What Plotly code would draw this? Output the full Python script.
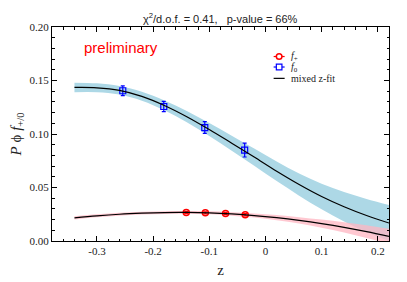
import plotly.graph_objects as go

# ---- data ----
z_curve = [-0.34, -0.30, -0.26, -0.22, -0.18, -0.14, -0.10, -0.06, -0.02,
           0.02, 0.06, 0.10, 0.14, 0.18, 0.22]
f0_fit = [0.1435, 0.1432, 0.1408, 0.1352, 0.1267, 0.1162, 0.1042, 0.0914,
          0.0784, 0.0652, 0.0528, 0.0416, 0.0320, 0.0238, 0.0168]
f0_err = [0.0045, 0.0042, 0.0040, 0.0042, 0.0046, 0.0052, 0.0060, 0.0070,
          0.0080, 0.0092, 0.0104, 0.0120, 0.0138, 0.0155, 0.0168]
fp_fit = [0.0216, 0.0235, 0.0250, 0.0260, 0.0266, 0.0267, 0.0263, 0.0253,
          0.0238, 0.0218, 0.0193, 0.0163, 0.0128, 0.0088, 0.0044]
fp_err = [0.0015, 0.0014, 0.0013, 0.0013, 0.0013, 0.0013, 0.0014, 0.0016,
          0.0019, 0.0024, 0.0030, 0.0038, 0.0048, 0.0060, 0.0070]

z_f0 = [-0.254, -0.181, -0.108, -0.037]
f0_pts = [0.1404, 0.1257, 0.1060, 0.0850]
f0_pts_err = [0.0045, 0.0048, 0.0055, 0.0065]

z_fp = [-0.141, -0.107, -0.071, -0.036]
fp_pts = [0.0266, 0.0263, 0.0257, 0.0245]
fp_pts_err = [0.0010, 0.0010, 0.0010, 0.0010]

x_ticks = [-0.3, -0.2, -0.1, 0.0, 0.1, 0.2]
x_ticklabels = ["-0.3", "-0.2", "-0.1", "0", "0.1", "0.2"]
y_ticks = [0.00, 0.05, 0.10, 0.15, 0.20]
y_ticklabels = ["0.00", "0.05", "0.10", "0.15", "0.20"]

legend_labels = ["<i>f</i><sub>+</sub>", "<i>f</i><sub>0</sub>", "mixed z-fit"]

f0_up = [a + b for a, b in zip(f0_fit, f0_err)]
f0_lo = [a - b for a, b in zip(f0_fit, f0_err)]
fp_up = [a + b for a, b in zip(fp_fit, fp_err)]
fp_lo = [a - b for a, b in zip(fp_fit, fp_err)]

serif = "Liberation Serif"
sans = "Liberation Sans"

fig = go.Figure()

line_shape = dict(shape="spline", smoothing=1.0)

# f0 band
fig.add_trace(go.Scatter(x=z_curve, y=f0_up, mode="lines", line=dict(width=0, **line_shape),
                         showlegend=False, hoverinfo="skip"))
fig.add_trace(go.Scatter(x=z_curve, y=f0_lo, mode="lines", line=dict(width=0, **line_shape),
                         fill="tonexty", fillcolor="#add8e6", showlegend=False, hoverinfo="skip"))
# f+ band
fig.add_trace(go.Scatter(x=z_curve, y=fp_up, mode="lines", line=dict(width=0, **line_shape),
                         showlegend=False, hoverinfo="skip"))
fig.add_trace(go.Scatter(x=z_curve, y=fp_lo, mode="lines", line=dict(width=0, **line_shape),
                         fill="tonexty", fillcolor="rgba(255,182,193,0.75)", showlegend=False,
                         hoverinfo="skip"))

# data points
fig.add_trace(go.Scatter(x=z_fp, y=fp_pts, mode="markers", name=legend_labels[0], showlegend=False,
                         marker=dict(symbol="circle-open", size=6, color="red", line=dict(width=1.5)),
                         error_y=dict(type="data", array=fp_pts_err, color="red", thickness=1.2, width=2)))
fig.add_trace(go.Scatter(x=z_f0, y=f0_pts, mode="markers", name=legend_labels[1], showlegend=False,
                         marker=dict(symbol="square-open", size=6, color="blue", line=dict(width=1.2)),
                         error_y=dict(type="data", array=f0_pts_err, color="blue", thickness=1.2, width=2)))

# fit lines
fig.add_trace(go.Scatter(x=z_curve, y=f0_fit, mode="lines", name=legend_labels[2], showlegend=False,
                         line=dict(color="black", width=1.2, **line_shape)))
fig.add_trace(go.Scatter(x=z_curve, y=fp_fit, mode="lines", showlegend=False,
                         line=dict(color="black", width=1.2, **line_shape)))

axis_common = dict(showline=True, linecolor="black", linewidth=1, mirror="ticks",
                   ticks="inside", ticklen=5, tickcolor="black", showgrid=False, zeroline=False,
                   automargin=False,
                   tickfont=dict(family=serif, size=11, color="#222"))

fig.update_xaxes(range=[-0.38, 0.22], tickvals=x_ticks, ticktext=x_ticklabels,
                 minor=dict(ticks="inside", ticklen=2.5, dtick=0.02, tick0=0, tickcolor="black"),
                 title=dict(text="z", font=dict(family=serif, size=15, color="#222"), standoff=8),
                 **axis_common)
fig.update_yaxes(range=[0, 0.2], tickvals=y_ticks, ticktext=y_ticklabels,
                 minor=dict(ticks="inside", ticklen=2.5, dtick=0.01, tick0=0, tickcolor="black"),
                 title=dict(text="<i>P</i> ϕ <i>f</i><sub>+/0</sub>",
                            font=dict(family=serif, size=15, color="#222"), standoff=4),
                 **axis_common)

# ---- hand-drawn legend (compact, like the reference) ----
PW, PH = 337.0, 214.0           # plot area size in px
lx, ltx = 0.674, 0.703          # key centre / text start (paper)
ly = [0.862, 0.813, 0.760]      # entry centres (paper)
rx, ry = 2.8 / PW, 2.8 / PH
hx = 5.5 / PW
shapes = []
# f+ key: circle with horizontal bar
shapes.append(dict(type="line", xref="paper", yref="paper", x0=lx - hx, x1=lx + hx, y0=ly[0], y1=ly[0],
                   line=dict(color="red", width=1.2)))
shapes.append(dict(type="circle", xref="paper", yref="paper", x0=lx - rx, x1=lx + rx,
                   y0=ly[0] - ry, y1=ly[0] + ry, line=dict(color="red", width=1.5), fillcolor="white"))
# f0 key: square with horizontal bar
shapes.append(dict(type="line", xref="paper", yref="paper", x0=lx - hx, x1=lx + hx, y0=ly[1], y1=ly[1],
                   line=dict(color="blue", width=1.2)))
shapes.append(dict(type="rect", xref="paper", yref="paper", x0=lx - rx, x1=lx + rx,
                   y0=ly[1] - ry, y1=ly[1] + ry, line=dict(color="blue", width=1.2), fillcolor="white"))
# fit key: black line
shapes.append(dict(type="line", xref="paper", yref="paper", x0=lx - hx, x1=lx + hx, y0=ly[2], y1=ly[2],
                   line=dict(color="black", width=1.2)))

annotations = [
    dict(text="χ<sup>2</sup>/d.o.f. = 0.41,   p-value = 66%", xref="paper", yref="paper",
         x=0.5, y=1.0, xanchor="center", yanchor="bottom", showarrow=False,
         font=dict(family=sans, size=11, color="#222")),
    dict(text="preliminary", xref="paper", yref="paper", x=0.09, y=0.905,
         xanchor="left", yanchor="middle", showarrow=False,
         font=dict(family=sans, size=15, color="red")),
]
for lab, yy in zip(legend_labels, ly):
    annotations.append(dict(text=lab, xref="paper", yref="paper", x=ltx, y=yy,
                            xanchor="left", yanchor="middle", showarrow=False,
                            font=dict(family=serif, size=10, color="#222")))

# page body has an 8px margin: the figure is sized so the plot area lands where the reference has it
fig.update_layout(
    width=399, height=274,
    margin=dict(l=44, r=18, t=19, b=41),
    paper_bgcolor="white", plot_bgcolor="white",
    showlegend=False,
    shapes=shapes,
    annotations=annotations,
)

fig.write_html("out.html")
